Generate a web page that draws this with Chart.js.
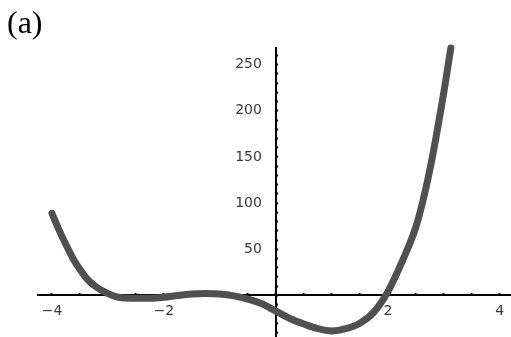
<!DOCTYPE html>
<html>
<head>
<meta charset="utf-8">
<script src="https://cdn.jsdelivr.net/npm/chart.js@4"></script>
<style>
  html, body { margin: 0; padding: 0; background: #fff; }
  #wrap { position: relative; width: 511px; height: 337px; }
</style>
</head>
<body>
<div id="wrap"><canvas id="c" width="511" height="337"></canvas></div>
<script>
// ---- data ----
const panelLabel = "(a)";
const xValues = [-4.0, -3.875, -3.75, -3.625, -3.5, -3.375, -3.25, -3.125, -3.0, -2.875, -2.75, -2.5, -2.25, -2.0, -1.75, -1.5, -1.25, -1.0, -0.75, -0.5, -0.25, 0.0, 0.25, 0.5, 0.75, 1.0, 1.25, 1.5, 1.75, 2.0, 2.25, 2.5, 2.625, 2.75, 2.875, 3.0, 3.125];
const yValues = [89, 71, 55, 40, 28, 18, 11, 6, 2, -1, -2.5, -3, -3, -2, 0, 1.5, 2, 1.5, -0.5, -4, -9, -17, -25, -31, -36, -38.5, -36, -30, -18, 4, 36, 74, 102, 136, 176, 220, 268];
const xTickLabels = [-4, -2, 2, 4];
const yTickLabels = [50, 100, 150, 200, 250];

const points = xValues.map((x, i) => ({ x: x, y: yValues[i] }));

const panelLabelPlugin = {
  id: 'panelLabel',
  afterDraw(chart) {
    const ctx = chart.ctx;
    ctx.save();
    ctx.fillStyle = '#000';
    ctx.font = "32px 'Liberation Serif', 'Times New Roman', serif";
    ctx.textBaseline = 'alphabetic';
    ctx.textAlign = 'left';
    ctx.fillText(panelLabel, 7, 33);
    ctx.restore();
  }
};

function noLayoutSpace(s) {
  if (s.isHorizontal()) { s.height = 0; } else { s.width = 0; }
  s.paddingLeft = 0; s.paddingRight = 0; s.paddingTop = 0; s.paddingBottom = 0;
}

const tickFont = { family: "'DejaVu Sans', sans-serif", size: 14 };

new Chart(document.getElementById('c'), {
  type: 'line',
  data: {
    datasets: [{
      data: points,
      borderColor: '#505050',
      borderWidth: 7,
      borderCapStyle: 'round',
      borderJoinStyle: 'round',
      pointRadius: 0,
      cubicInterpolationMode: 'monotone',
      fill: false,
      clip: false
    }]
  },
  options: {
    responsive: false,
    animation: false,
    layout: { padding: { left: 38, right: 0, top: 48, bottom: 0 } },
    plugins: { legend: { display: false }, tooltip: { enabled: false }, title: { display: false } },
    scales: {
      x: {
        type: 'linear',
        position: { y: 0 },
        min: -4.25,
        max: 4.2,
        afterFit: noLayoutSpace,
        border: { display: true, color: '#000', width: 2 },
        grid: { display: true, drawOnChartArea: false, drawTicks: true, tickLength: -3, tickColor: '#000', tickWidth: 2 },
        ticks: {
          stepSize: 0.5,
          includeBounds: false,
          autoSkip: false,
          maxRotation: 0,
          padding: 11,
          color: '#3a3a3a',
          font: tickFont,
          callback: (v) => xTickLabels.includes(v) ? String(v).replace('-', '\u2212') : ''
        }
      },
      y: {
        type: 'linear',
        position: { x: 0 },
        min: -45,
        max: 268,
        afterFit: noLayoutSpace,
        border: { display: true, color: '#000', width: 2 },
        grid: { display: true, drawOnChartArea: false, drawTicks: true, tickLength: -3, tickColor: '#000', tickWidth: 2 },
        ticks: {
          stepSize: 10,
          includeBounds: false,
          autoSkip: false,
          padding: 0,
          color: '#3a3a3a',
          font: tickFont,
          callback: (v) => yTickLabels.includes(v) ? String(v) + '\u2002\u2002' : ''
        }
      }
    }
  },
  plugins: [panelLabelPlugin]
});
</script>
</body>
</html>
